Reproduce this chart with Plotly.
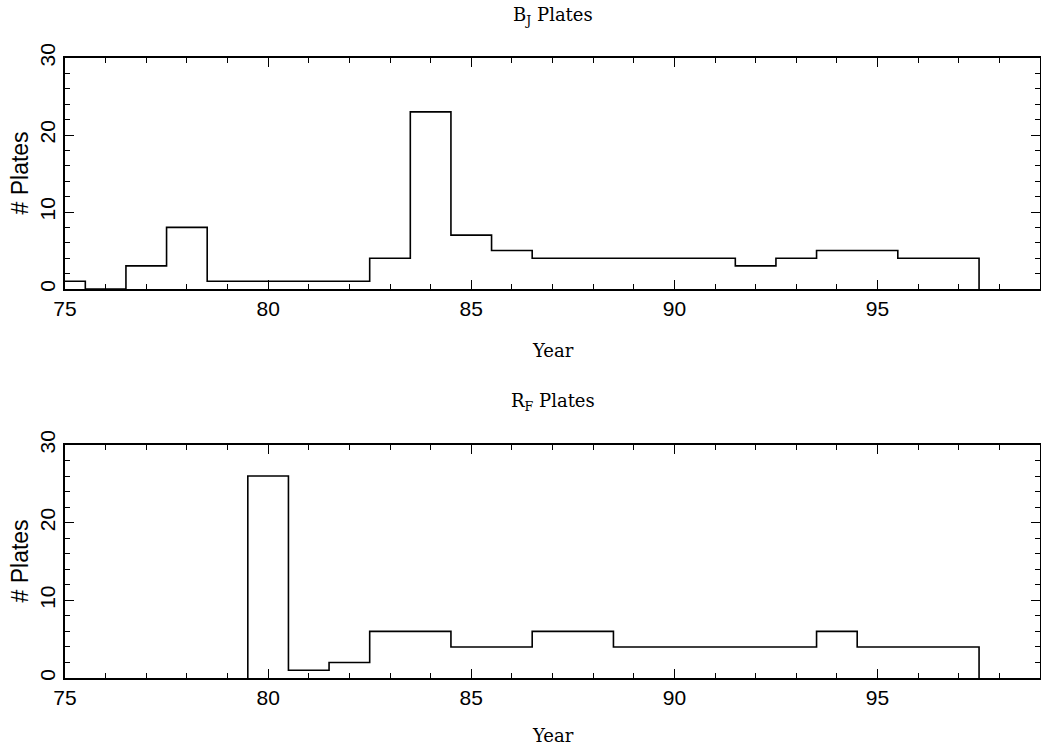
import plotly.graph_objects as go

# Plate counts per year (bins of one year, centred on the integer year)
bj_years = [75, 76, 77, 78, 79, 80, 81, 82, 83, 84, 85, 86, 87, 88, 89, 90, 91, 92, 93, 94, 95, 96, 97]
bj_counts = [1, 0, 3, 8, 1, 1, 1, 1, 4, 23, 7, 5, 4, 4, 4, 4, 4, 3, 4, 5, 5, 4, 4]

rf_years = [80, 81, 82, 83, 84, 85, 86, 87, 88, 89, 90, 91, 92, 93, 94, 95, 96, 97]
rf_counts = [26, 1, 2, 6, 6, 4, 4, 6, 6, 4, 4, 4, 4, 4, 6, 4, 4, 4]

x_ticks = [75, 80, 85, 90, 95]
y_ticks = [0, 10, 20, 30]

W, H = 1041, 750
LEFT, RIGHT = 65, 1040
SANS = "Liberation Sans, Arial, sans-serif"
SERIF = "DejaVu Serif, serif"


def step_xy(years, counts):
    """Histogram outline: rise at the first left edge, steps at each edge, drop at the end."""
    xs = [years[0] - 0.5] + [y - 0.5 for y in years] + [years[-1] + 0.5]
    ys = [0] + list(counts) + [0]
    return xs, ys


def py(pix):
    return 1 - pix / H


panels = [
    (bj_years, bj_counts, 58, 289, "B<sub>J</sub> Plates", 16, 350),
    (rf_years, rf_counts, 445, 678, "R<sub>F</sub> Plates", 402, 735),
]

fig = go.Figure()
annotations = []
for i, (yrs, cnts, top, bot, title, title_y, xlab_y) in enumerate(panels, start=1):
    xs, ys = step_xy(yrs, cnts)
    sfx = "" if i == 1 else str(i)
    fig.add_trace(go.Scatter(
        x=xs, y=ys, mode="lines", line=dict(color="black", width=1.6, shape="hv"),
        xaxis="x" + sfx, yaxis="y" + sfx, showlegend=False, hoverinfo="skip",
    ))
    axis_common = dict(
        showgrid=False, zeroline=False, showline=True, linecolor="black", linewidth=1.6,
        mirror="ticks", ticks="inside", tickcolor="black", tickwidth=1.3,
        automargin=False, ticklen=9,
        tickfont=dict(family=SANS, size=21, color="black"),
    )
    fig.layout["xaxis" + sfx] = dict(
        axis_common, domain=[0, 1], range=[75, 99], anchor="y" + sfx,
        tickvals=x_ticks,
        minor=dict(dtick=1, ticks="inside", ticklen=5, tickcolor="black", tickwidth=1.3),
    )
    fig.layout["yaxis" + sfx] = dict(
        axis_common, domain=[py(bot), py(top)], range=[0, 30], anchor="x" + sfx,
        tickvals=y_ticks, tickangle=-90,
        minor=dict(dtick=2, ticks="inside", ticklen=5, tickcolor="black", tickwidth=1.3),
    )
    annotations += [
        dict(text=title, x=0.5, y=py(title_y), xref="paper", yref="paper",
             xanchor="center", yanchor="middle", showarrow=False,
             font=dict(family=SERIF, size=18, color="black")),
        dict(text="Year", x=0.5, y=py(xlab_y), xref="paper", yref="paper",
             xanchor="center", yanchor="middle", showarrow=False,
             font=dict(family=SERIF, size=18, color="black")),
        dict(text="# Plates", x=(19 - LEFT) / (RIGHT - LEFT), y=py((top + bot) / 2),
             xref="paper", yref="paper", xanchor="center", yanchor="middle",
             showarrow=False, textangle=-90,
             font=dict(family=SANS, size=23, color="black")),
    ]

fig.update_layout(
    width=W, height=H,
    margin=dict(l=LEFT, r=W - RIGHT, t=0, b=0),
    paper_bgcolor="white", plot_bgcolor="white",
    annotations=annotations,
)

fig.write_html("out.html")
